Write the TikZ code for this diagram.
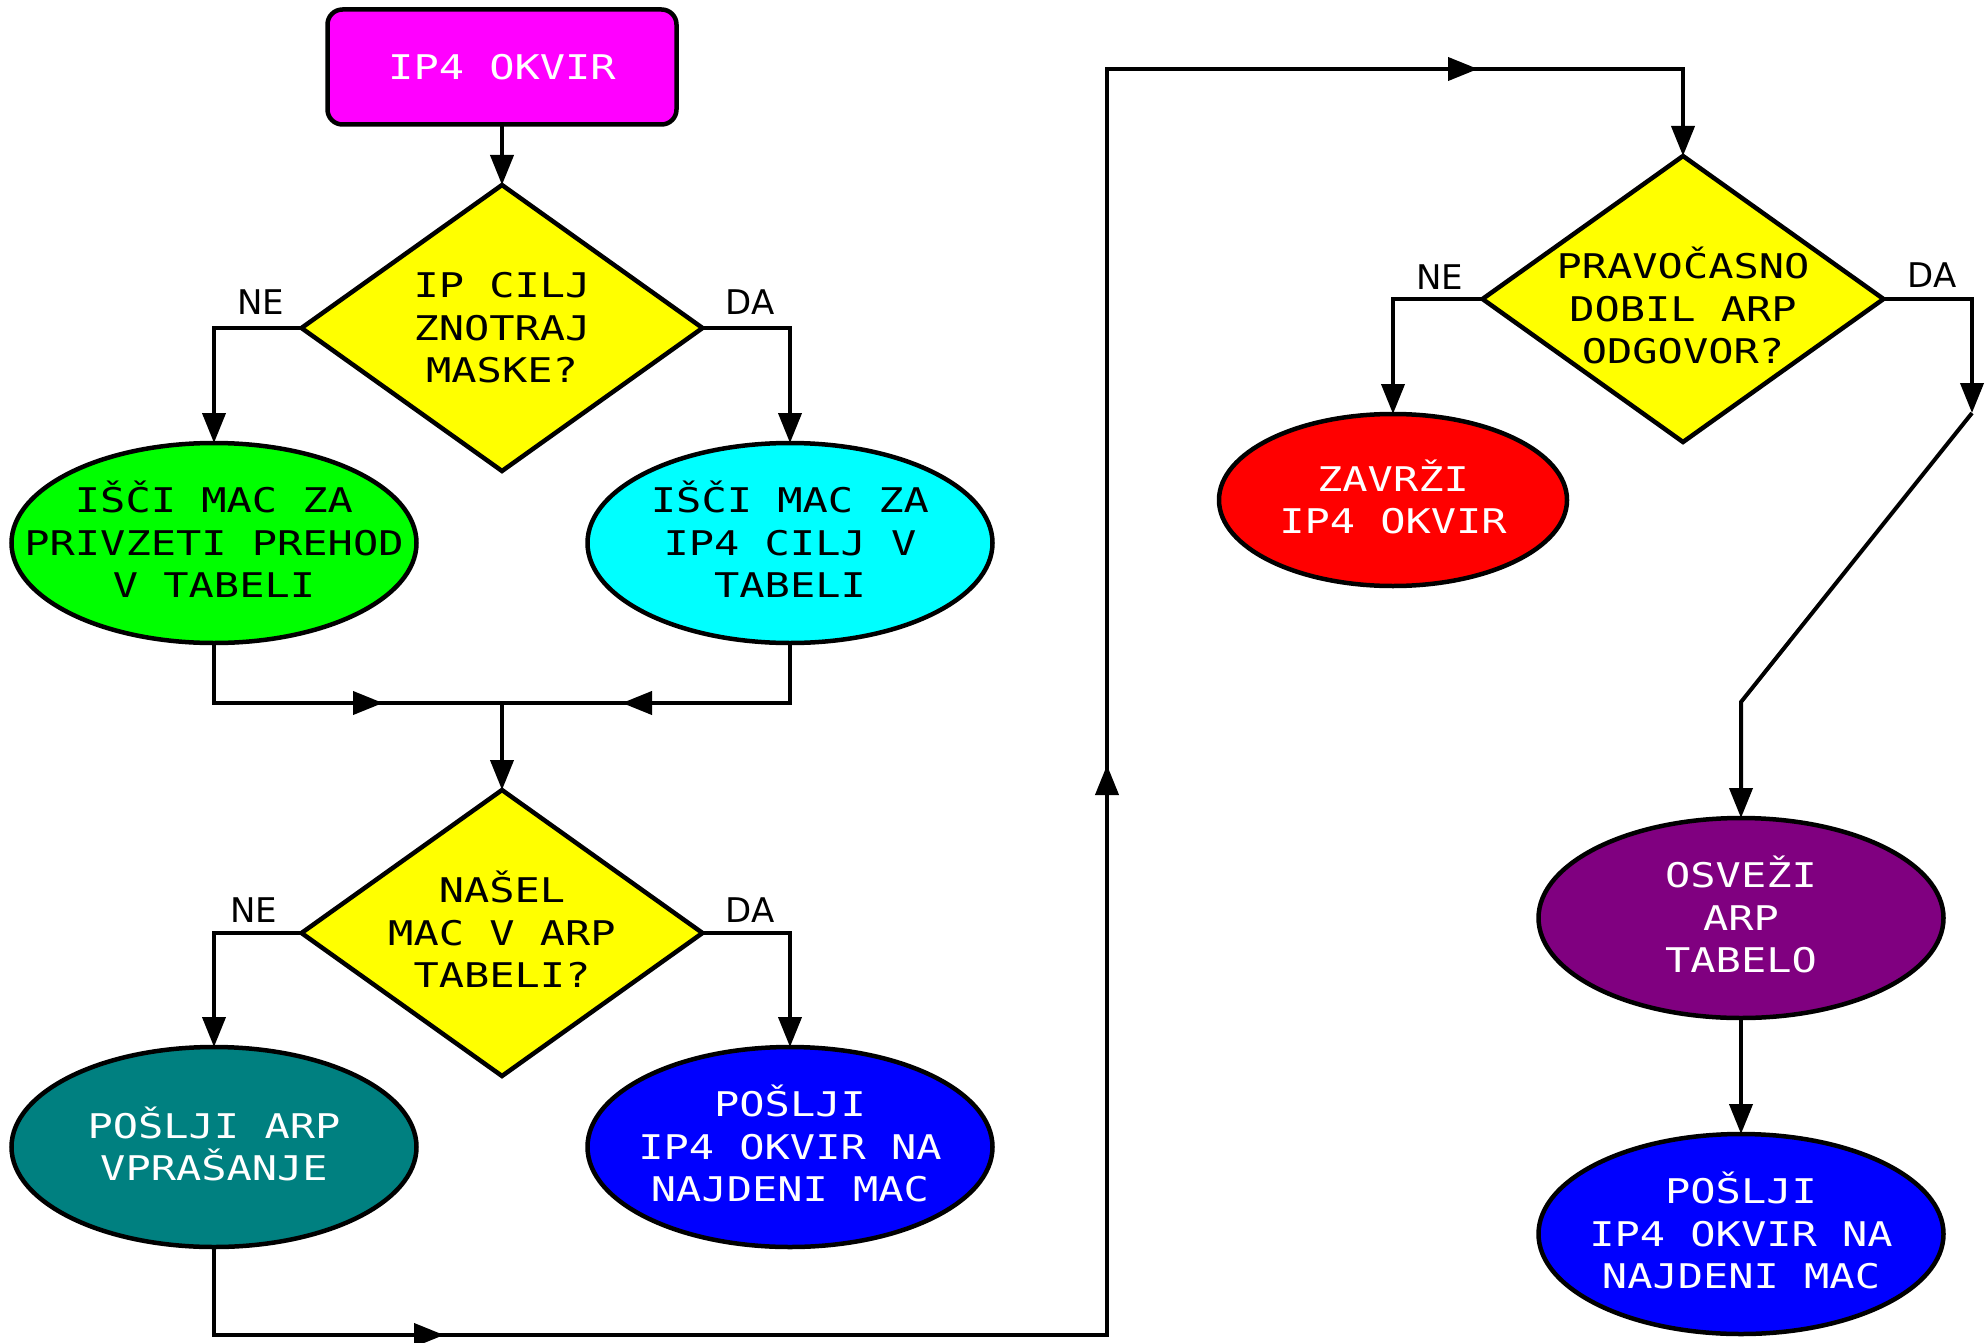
\documentclass[tikz,border=0pt]{standalone}
\usepackage{fontspec}
\usetikzlibrary{shapes.geometric,arrows.meta,decorations.markings}
\newfontfamily\dmono[FakeStretch=1.235]{DejaVu Sans Mono}
\newfontfamily\dsans{DejaVu Sans}
\newcommand\sline[1]{\smash{#1}}
\definecolor{cmag}{HTML}{FF00FF}
\definecolor{cyel}{HTML}{FFFF00}
\definecolor{cgrn}{HTML}{00FF00}
\definecolor{ccyn}{HTML}{00FFFF}
\definecolor{cteal}{HTML}{008080}
\definecolor{cblu}{HTML}{0000FF}
\definecolor{cred}{HTML}{FF0000}
\definecolor{cpur}{HTML}{800080}
\begin{document}
\begin{tikzpicture}[x=1pt,y=-1pt,
  conn/.style={draw=black, line width=4pt},
  arr/.style={-{Triangle[length=30pt,width=23pt]}},
  mk/.style={postaction={decorate,decoration={markings,mark=at position #1 with {\arrow{Triangle[length=30pt,width=23pt]}}}}},
  loopmk/.style={postaction={decorate,decoration={markings,
      mark=at position 318pt with {\arrow{Triangle[length=30pt,width=23pt]}},
      mark=at position 1551pt with {\arrow{Triangle[length=30pt,width=23pt]}},
      mark=at position 2618pt with {\arrow{Triangle[length=30pt,width=23pt]}}}}},
  dia/.style={diamond, draw=black, line width=4.5pt, fill=cyel, minimum width=401pt, minimum height=286pt, inner sep=0pt, outer sep=0pt},
  ell/.style={ellipse, draw=black, line width=4.5pt, minimum width=405pt, minimum height=200pt, inner sep=0pt, outer sep=0pt},
  boxst/.style={rectangle, rounded corners=15pt, draw=black, line width=4.5pt, minimum width=349pt, minimum height=115pt, inner sep=0pt, outer sep=0pt},
  txt/.style={font=\dmono\fontsize{34}{42.5}\selectfont, align=center, inner sep=0pt, yshift=-12.4pt},
  lbl/.style={font=\dsans\fontsize{34}{40}\selectfont, inner sep=0pt, yshift=-12.4pt}
]
\fill[white] (0,0) rectangle (1988,1343);
\useasboundingbox (0,0) rectangle (1988,1343);

% shapes
\node[boxst, fill=cmag] (start) at (502,67) {};
\node[txt, text=white] (startt) at (start) {\sline{IP4 OKVIR}};

\node[dia] (d1) at (502,328) {};
\node[txt] (d1t) at (d1) {\sline{IP CILJ}\\\sline{ZNOTRAJ}\\\sline{MASKE?}};

\node[ell, fill=cgrn] (green) at (214,543) {};
\node[txt] (greent) at (green) {\sline{IŠČI MAC ZA}\\\sline{PRIVZETI PREHOD}\\\sline{V TABELI}};

\node[ell, fill=ccyn] (cyan) at (790,543) {};
\node[txt] (cyant) at (cyan) {\sline{IŠČI MAC ZA}\\\sline{IP4 CILJ V}\\\sline{TABELI}};

\node[dia] (d2) at (502,933) {};
\node[txt] (d2t) at (d2) {\sline{NAŠEL}\\\sline{MAC V ARP}\\\sline{TABELI?}};

\node[ell, fill=cteal] (teal) at (214,1147) {};
\node[txt, text=white] (tealt) at (teal) {\sline{POŠLJI ARP}\\\sline{VPRAŠANJE}};

\node[ell, fill=cblu] (blue1) at (790,1147) {};
\node[txt, text=white] (blue1t) at (blue1) {\sline{POŠLJI}\\\sline{IP4 OKVIR NA}\\\sline{NAJDENI MAC}};

\node[dia] (d3) at (1683,299) {};
\node[txt] (d3t) at (1683,309) {\sline{PRAVOČASNO}\\\sline{DOBIL ARP}\\\sline{ODGOVOR?}};

\node[ell, fill=cred, minimum width=348pt, minimum height=172pt] (red) at (1393,500) {};
\node[txt, text=white] (redt) at (red) {\sline{ZAVRŽI}\\\sline{IP4 OKVIR}};

\node[ell, fill=cpur] (purple) at (1741,918) {};
\node[txt, text=white] (purplet) at (purple) {\sline{OSVEŽI}\\\sline{ARP}\\\sline{TABELO}};

\node[ell, fill=cblu] (blue2) at (1741,1234) {};
\node[txt, text=white] (blue2t) at (blue2) {\sline{POŠLJI}\\\sline{IP4 OKVIR NA}\\\sline{NAJDENI MAC}};

% labels
\node[lbl] (ne1) at (261,302) {\sline{NE}};
\node[lbl] (da1) at (750,302) {\sline{DA}};
\node[lbl] (ne2) at (254,910) {\sline{NE}};
\node[lbl] (da2) at (750,910) {\sline{DA}};
\node[lbl] (ne3) at (1440,277) {\sline{NE}};
\node[lbl] (da3) at (1932,275) {\sline{DA}};

% helper coordinates
\coordinate (j1) at (502,703);
\coordinate (c1) at (214,1335);
\coordinate (c2) at (1107,1335);
\coordinate (c3) at (1107,69);
\coordinate (c4) at (1683,69);
\coordinate (k1) at (1972,413);
\coordinate (k2) at (1741,702);

% connectors
\draw[conn,arr] (start.south) -- (d1.north);
\draw[conn,arr] (d1.west) -| (green.north);
\draw[conn,arr] (d1.east) -| (cyan.north);
\draw[conn,mk=229pt] (green.south) |- (j1);
\draw[conn,mk=228pt] (cyan.south) |- (j1);
\draw[conn,arr] (j1) -- (d2.north);
\draw[conn,arr] (d2.west) -| (teal.north);
\draw[conn,arr] (d2.east) -| (blue1.north);
\draw[conn,arr,loopmk] (teal.south) -- (c1) -- (c2) -- (c3) -- (c4) -- (d3.north);
\draw[conn,arr] (d3.west) -| (red.north);
\draw[conn,arr] (d3.east) -| (k1);
\draw[conn,arr] (k1) -- (k2) -- (purple.north);
\draw[conn,arr] (purple.south) -- (blue2.north);
\end{tikzpicture}
\end{document}
